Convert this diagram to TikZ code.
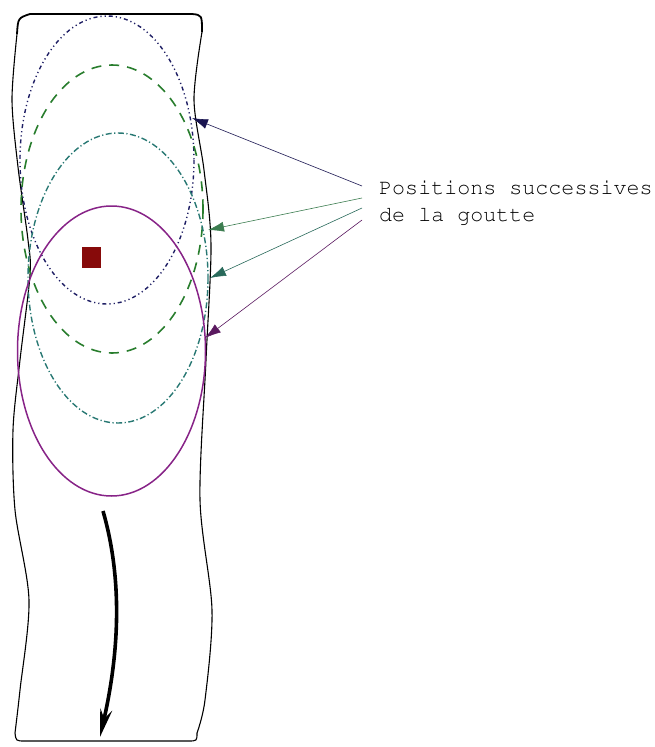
\documentclass[tikz,border=0pt]{standalone}
\usepackage[T1]{fontenc}
\usetikzlibrary{arrows.meta}
\definecolor{navyc}{RGB}{30,30,100}
\definecolor{greenc}{RGB}{40,125,45}
\definecolor{tealc}{RGB}{40,120,115}
\definecolor{purplec}{RGB}{135,35,135}
\definecolor{dropc}{RGB}{135,10,10}
\definecolor{navyarr}{RGB}{25,20,80}
\definecolor{greenarr}{RGB}{60,125,80}
\definecolor{tealarr}{RGB}{40,105,90}
\definecolor{purplearr}{RGB}{90,25,95}
\tikzset{
  wall/.style={line width=1.1pt},
  pointer/.style={->, line width=0.6pt},
}
\begin{document}
\begin{tikzpicture}[>={Latex[length=16pt,width=10pt]}, x=1pt, y=-1pt]
    \useasboundingbox (0,0) rectangle (654,747);
    % canal
    \draw[wall] plot[smooth] coordinates {(17,34) (12,100) (18,167) (28,240) (30,275) (20,360) (13,430) (15,510) (29,600) (20,690) (15,733)};
    \draw[wall] plot[smooth] coordinates {(202,32) (194,100) (204,170) (211,245) (206,360) (200,500) (212,610) (205,700) (197,733)};
    \draw[line width=1.8pt] (17,34) .. controls (18,18) .. (30,14) -- (192,14) .. controls (202,15) .. (202,32);
    \draw[wall] (15,733) .. controls (16,741) .. (25,741) -- (188,741) .. controls (197,741) .. (197,733);
    % positions de la goutte
    \draw[navyc, line width=1.4pt, dash pattern=on 4pt off 3pt on 1.2pt off 3pt on 1.2pt off 3pt] (107,160) ellipse (87 and 144);
    \draw[greenc, line width=1.6pt, dash pattern=on 10pt off 8pt] (112,209) ellipse (91 and 144);
    \draw[tealc, line width=1.4pt, dash pattern=on 6pt off 2.5pt on 1.2pt off 2.5pt] (118,278) ellipse (90 and 145);
    \draw[purplec, line width=1.5pt] (111.5,351) ellipse (94 and 145);
    % la goutte
    \fill[dropc] (82,247) rectangle (101,268);
    % sens de l'ecoulement
    \draw[line width=3.6pt, -{Stealth[length=28pt,width=12pt]}] (103,511) .. controls (120,570) and (122,640) .. (100,737);
    % legende
    \node[anchor=base west, inner sep=0pt, font=\fontencoding{T1}\fontfamily{pcr}\fontsize{21.7}{26.5}\selectfont, align=left] (txt) at (379,221) {Positions successives\\de la goutte};
    \coordinate (s1) at (362,186);
    \coordinate (s2) at (362,198);
    \coordinate (s3) at (362,208);
    \coordinate (s4) at (362,220);
    \coordinate (t1) at (192,118);
    \coordinate (t2) at (208,230);
    \coordinate (t3) at (210,278);
    \coordinate (t4) at (205,338);
    \draw[pointer, navyarr] (s1) -- (t1);
    \draw[pointer, greenarr] (s2) -- (t2);
    \draw[pointer, tealarr] (s3) -- (t3);
    \draw[pointer, purplearr] (s4) -- (t4);
\end{tikzpicture}
\end{document}
